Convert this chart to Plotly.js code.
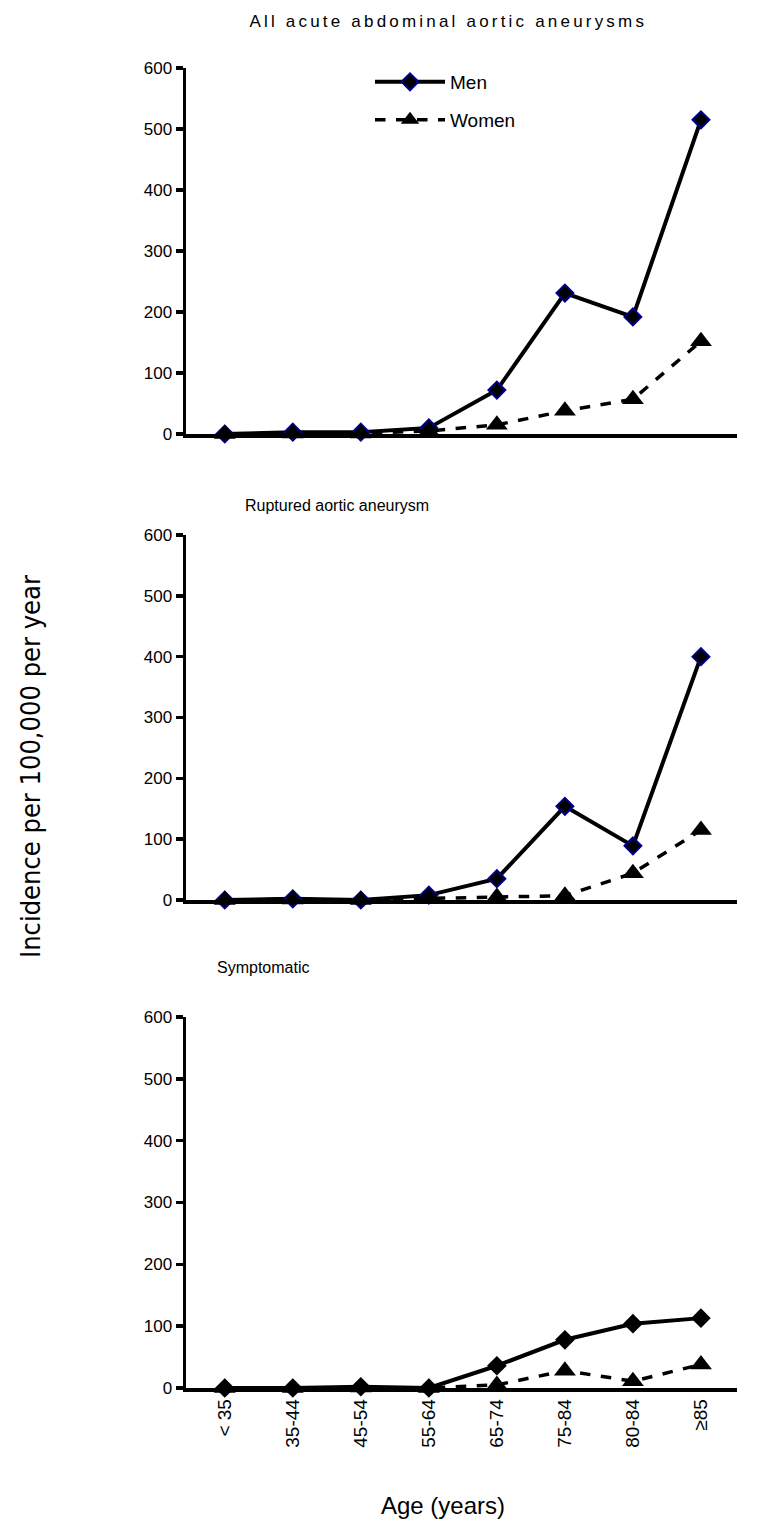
<!DOCTYPE html>
<html>
<head>
<meta charset="utf-8">
<script src="https://cdn.plot.ly/plotly-3.0.1.min.js"></script>
<style>
  html, body { margin: 0; padding: 0; background: #fff; }
  #chart { width: 757px; height: 1526px; }
</style>
</head>
<body>
<div id="chart"></div>
<script>
// ---- Data ----
const ageGroups = ["< 35", "35-44", "45-54", "55-64", "65-74", "75-84", "80-84", "≥85"];

const allMen     = [0, 3, 3, 10, 72, 231, 192, 515];
const allWomen   = [0, 1, 1, 5, 15, 38, 57, 152];

const rupturedMen   = [0, 2, 0, 8, 35, 154, 89, 400];
const rupturedWomen = [0, 1, 0, 3, 5, 7, 44, 115];

const symptMen   = [0, 0, 2, 0, 36, 78, 104, 113];
const symptWomen = [0, 0, 1, 0, 5, 28, 11, 38];

const panelTitles = ["All acute abdominal aortic aneurysms", "Ruptured aortic aneurysm", "Symptomatic"];
const seriesNames = ["Men", "Women"];
const yTicks = [0, 100, 200, 300, 400, 500, 600];

// ---- Build ----
const H = 1526;
const FONT = "Liberation Sans, Arial, sans-serif";
const idx = ageGroups.map((_, i) => i);

function menTrace(y, xa, ya, show, navy) {
  return {
    x: idx, y: y, xaxis: xa, yaxis: ya, name: seriesNames[0], type: "scatter",
    mode: "lines+markers", showlegend: show, legend: "legend", cliponaxis: false,
    line: { color: "#000", width: 4 },
    marker: { symbol: "diamond", size: 13, color: "#000",
              line: { color: navy ? "#00008B" : "#000", width: 2 } }
  };
}
function womenTrace(y, xa, ya, show) {
  return {
    x: idx, y: y, xaxis: xa, yaxis: ya, name: seriesNames[1], type: "scatter",
    mode: "lines+markers", showlegend: show, legend: "legend2", cliponaxis: false,
    line: { color: "#000", width: 3.5, dash: "dash" },
    marker: { symbol: "triangle-up", size: 19, color: "#000" }
  };
}

const data = [
  menTrace(allMen, "x", "y", true, true),
  womenTrace(allWomen, "x", "y", true),
  menTrace(rupturedMen, "x2", "y2", false, true),
  womenTrace(rupturedWomen, "x2", "y2", false),
  menTrace(symptMen, "x3", "y3", false, false),
  womenTrace(symptWomen, "x3", "y3", false)
];

const px = v => 1 - v / H;
const xDomain = [186 / 757, 737 / 757];
const xRange = [-0.57, 7.53];

function xAxis(anchor, showLabels) {
  return {
    domain: xDomain, anchor: anchor, range: xRange,
    showline: true, linecolor: "#000", linewidth: 3.5,
    showgrid: false, zeroline: false, ticks: "",
    tickmode: "array", tickvals: idx, ticktext: ageGroups,
    showticklabels: showLabels, tickangle: -90,
    tickfont: { family: FONT, size: 19, color: "#000" }
  };
}
function yAxis(anchor, dom) {
  return {
    domain: dom, anchor: anchor, range: [0, 600],
    showline: true, linecolor: "#000", linewidth: 3.5,
    showgrid: false, zeroline: false,
    ticks: "outside", ticklen: 7, tickwidth: 3.5, tickcolor: "#000",
    tickmode: "array", tickvals: yTicks,
    tickfont: { family: FONT, size: 17, color: "#000" }
  };
}

const layout = {
  width: 757, height: 1526,
  margin: { l: 0, r: 0, t: 0, b: 0 },
  paper_bgcolor: "#fff", plot_bgcolor: "#fff",
  showlegend: true,
  xaxis: xAxis("y", false),
  yaxis: yAxis("x", [px(434), px(68)]),
  xaxis2: xAxis("y2", false),
  yaxis2: yAxis("x2", [px(900), px(535)]),
  xaxis3: xAxis("y3", true),
  yaxis3: yAxis("x3", [px(1388), px(1017)]),
  legend: {
    x: 370 / 757, y: px(63), xanchor: "left", yanchor: "top",
    bgcolor: "rgba(0,0,0,0)", itemwidth: 70,
    font: { family: FONT, size: 19, color: "#000" }
  },
  legend2: {
    x: 370 / 757, y: px(101), xanchor: "left", yanchor: "top",
    bgcolor: "rgba(0,0,0,0)", itemwidth: 70,
    font: { family: FONT, size: 19, color: "#000" }
  },
  annotations: [
    { text: panelTitles[0], xref: "paper", yref: "paper", x: 448 / 757, y: px(21),
      xanchor: "center", yanchor: "middle", showarrow: false,
      font: { family: FONT, size: 17, color: "#000" } },
    { text: panelTitles[1], xref: "paper", yref: "paper", x: 243 / 757, y: px(505),
      xanchor: "left", yanchor: "middle", showarrow: false,
      font: { family: FONT, size: 16, color: "#000" } },
    { text: panelTitles[2], xref: "paper", yref: "paper", x: 215 / 757, y: px(967),
      xanchor: "left", yanchor: "middle", showarrow: false,
      font: { family: FONT, size: 16, color: "#000" } },
    { text: "Incidence per 100,000 per year", xref: "paper", yref: "paper",
      x: 30 / 757, y: px(767), xanchor: "center", yanchor: "middle", textangle: -90,
      showarrow: false,
      font: { family: "DejaVu Sans Condensed, sans-serif", size: 27, color: "#000" } },
    { text: "Age (years)", xref: "paper", yref: "paper", x: 443 / 757, y: px(1505),
      xanchor: "center", yanchor: "middle", showarrow: false,
      font: { family: FONT, size: 24, color: "#000" } }
  ]
};

Plotly.newPlot("chart", data, layout, { displayModeBar: false, staticPlot: true }).then(() => {
  const t = document.querySelectorAll("#chart .annotation-text")[0];
  if (t) t.style.letterSpacing = "3.2px";
});
</script>
</body>
</html>
